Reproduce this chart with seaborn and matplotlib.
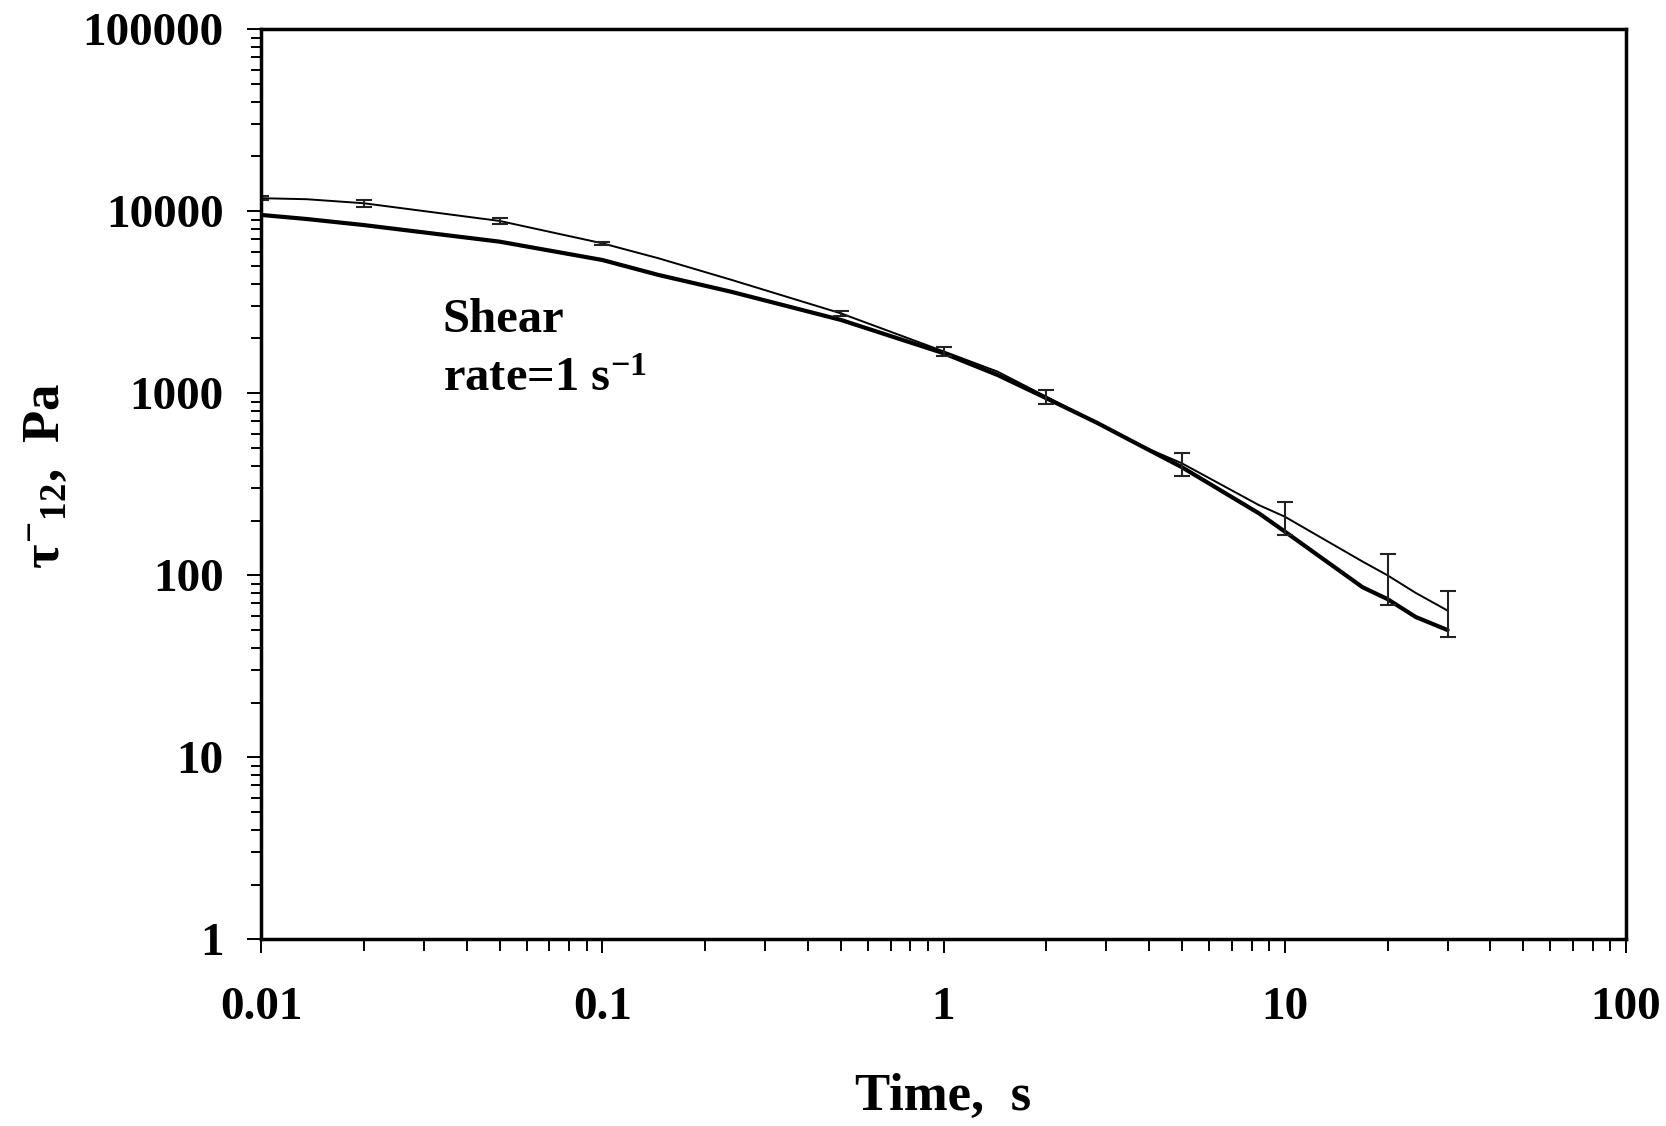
import numpy as np
import pandas as pd
import seaborn as sns
import matplotlib
matplotlib.use("Agg")
import matplotlib.pyplot as plt
from matplotlib.ticker import LogLocator, FuncFormatter, NullFormatter

# --- dados ---
tempo = [0.01, 0.0136, 0.02, 0.05, 0.1, 0.146, 0.239, 0.5, 1, 1.44, 2, 2.81,
         3.94, 5, 8.4, 10, 16.9, 20, 24.2, 30]
tau_fina = [11800, 11650, 11070, 8850, 6670, 5520, 4200, 2750, 1700, 1315, 958, 690,
            499, 412, 243, 210, 119, 100, 80, 64]
tau_grossa = [9550, 9070, 8400, 6810, 5400, 4470, 3610, 2530, 1660, 1260, 940, 690,
              495, 392, 219, 174, 86, 74, 59, 50]

# barras de erro (curva fina)
tempo_erro = [0.01, 0.02, 0.05, 0.1, 0.5, 1, 2, 5, 10, 20, 30]
media_erro = [11800, 11070, 8850, 6670, 2750, 1700, 958, 412, 210, 100, 64]
desvio_erro = [300, 450, 330, 110, 80, 100, 85, 60, 44, 31, 18]

sns.set_theme(style="ticks")
plt.rcParams['font.family'] = ['Liberation Serif', 'DejaVu Serif']
plt.rcParams['font.weight'] = 'bold'
plt.rcParams['mathtext.fontset'] = 'custom'
plt.rcParams['mathtext.rm'] = 'Liberation Serif:bold'
plt.rcParams['mathtext.it'] = 'Liberation Serif:bold'
plt.rcParams['mathtext.bf'] = 'Liberation Serif:bold'
for k in ['text.color', 'axes.labelcolor', 'xtick.color', 'ytick.color', 'axes.edgecolor']:
    plt.rcParams[k] = 'black'

fig = plt.figure(figsize=(16.66, 11.26), dpi=100)
ax = fig.add_axes([0.1567, 0.1658, 0.976 - 0.1567, 0.974 - 0.1658])
ax.set_xscale('log')
ax.set_yscale('log')

df = pd.DataFrame({'tempo': tempo, 'fina': tau_fina, 'grossa': tau_grossa})
sns.lineplot(data=df, x='tempo', y='grossa', ax=ax, color='black', lw=3.0,
             estimator=None, sort=False)
sns.lineplot(data=df, x='tempo', y='fina', ax=ax, color='black', lw=1.4,
             estimator=None, sort=False)
ax.errorbar(tempo_erro, media_erro, yerr=desvio_erro, fmt='none', ecolor='#222222',
            elinewidth=1.5, capsize=5.5, capthick=1.5)

ax.set_xlim(0.01, 100)
ax.set_ylim(1, 100000)

fmt = FuncFormatter(lambda v, p: f"{v:g}")
ax.xaxis.set_major_locator(LogLocator(base=10, numticks=10))
ax.xaxis.set_minor_locator(LogLocator(base=10, subs=np.arange(2, 10), numticks=20))
ax.yaxis.set_major_locator(LogLocator(base=10, numticks=10))
ax.yaxis.set_minor_locator(LogLocator(base=10, subs=np.arange(2, 10), numticks=20))
ax.xaxis.set_major_formatter(fmt)
ax.yaxis.set_major_formatter(fmt)
ax.xaxis.set_minor_formatter(NullFormatter())
ax.yaxis.set_minor_formatter(NullFormatter())

ax.tick_params(axis='x', which='major', direction='out', length=10, width=1.4,
               pad=24, labelsize=34, color='black', labelcolor='black')
ax.tick_params(axis='x', which='minor', direction='out', length=8.5, width=1.4, color='black')
ax.tick_params(axis='y', which='major', direction='out', length=10, width=1.4,
               pad=17, labelsize=34, color='black', labelcolor='black')
ax.tick_params(axis='y', which='minor', direction='out', length=7, width=1.4, color='black')
for lab in ax.get_xticklabels() + ax.get_yticklabels():
    lab.set_fontweight('bold')

for s in ax.spines.values():
    s.set_linewidth(2.5)
    s.set_color('black')
ax.grid(False)

ax.set_xlabel("Time,  s", fontsize=38, fontweight='bold', color='black')
ax.set_ylabel(r"$\tau^{-}{}_{12}$,  Pa", fontsize=38, fontweight='bold', color='black')
ax.xaxis.label.set_verticalalignment('baseline')
ax.xaxis.set_label_coords(0.5, -0.188)
ax.yaxis.set_label_coords(-0.14, 0.509)

ax.text(0.133, 0.667, "Shear", transform=ax.transAxes, fontsize=35,
        fontweight='bold', va='baseline', ha='left', color='black')
ax.text(0.133, 0.603, r"rate=1 s$^{-1}$", transform=ax.transAxes, fontsize=35,
        fontweight='bold', va='baseline', ha='left', color='black')

plt.savefig("out.png", dpi=100)
plt.close()
